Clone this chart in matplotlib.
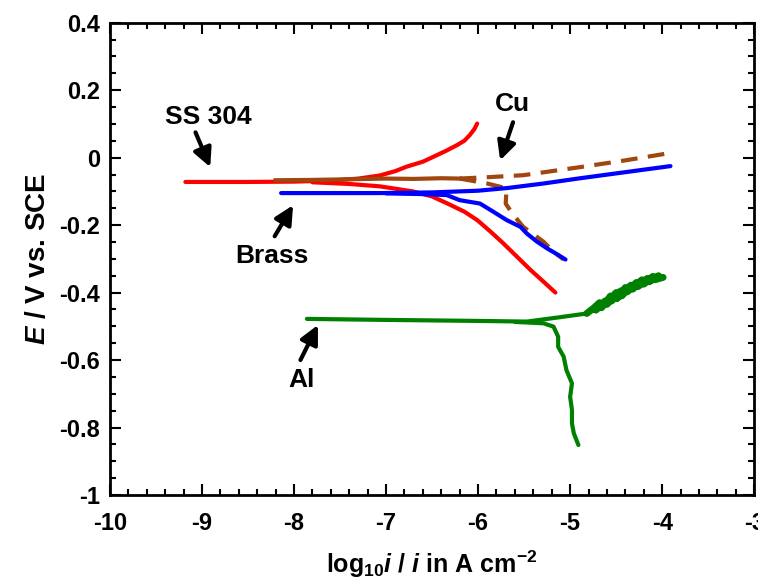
import matplotlib
matplotlib.use('Agg')
import matplotlib.pyplot as plt
from matplotlib.ticker import MultipleLocator, FuncFormatter

plt.rcParams['font.family'] = ['Liberation Sans', 'DejaVu Sans']
plt.rcParams['font.weight'] = 'bold'
plt.rcParams['axes.unicode_minus'] = False
plt.rcParams['mathtext.fontset'] = 'custom'
plt.rcParams['mathtext.rm'] = 'Liberation Sans:bold'
plt.rcParams['mathtext.it'] = 'Liberation Sans:italic:bold'
plt.rcParams['mathtext.bf'] = 'Liberation Sans:bold'

# SS 304 (red)
ss_anod_x = [-9.18, -8.5, -8.0, -7.6, -7.3, -7.07, -6.9, -6.78, -6.6, -6.49, -6.35, -6.23, -6.15, -6.09, -6.04, -6.01]
ss_anod_y = [-0.072, -0.072, -0.071, -0.068, -0.062, -0.053, -0.04, -0.027, -0.012, 0.002, 0.02, 0.037, 0.05, 0.067, 0.085, 0.101]
ss_cath_x = [-7.8, -7.4, -7.07, -6.9, -6.71, -6.5, -6.34, -6.15, -6.01, -5.87, -5.73, -5.58, -5.43, -5.3, -5.16]
ss_cath_y = [-0.073, -0.078, -0.085, -0.092, -0.10, -0.115, -0.135, -0.16, -0.185, -0.218, -0.253, -0.293, -0.333, -0.365, -0.40]

# Brass (blue)
br_anod_x = [-8.14, -7.5, -7.07, -6.5, -6.0, -5.68, -5.3, -4.89, -4.4, -3.91]
br_anod_y = [-0.105, -0.105, -0.105, -0.103, -0.098, -0.09, -0.077, -0.061, -0.043, -0.025]
br_cath_x = [-7.0, -6.6, -6.34, -6.2, -5.98, -5.83, -5.69, -5.54, -5.47, -5.36, -5.25, -5.15, -5.05]
br_cath_y = [-0.106, -0.108, -0.111, -0.126, -0.136, -0.161, -0.185, -0.205, -0.225, -0.249, -0.269, -0.285, -0.302]

# Cu (brown, dashed)
cu_base_x = [-8.2, -7.8, -7.4, -7.0, -6.7, -6.4, -6.2]
cu_base_y = [-0.067, -0.066, -0.064, -0.062, -0.063, -0.061, -0.062]
cu_anod_x = [-6.2, -5.9, -5.51, -5.2, -4.89, -4.4, -3.91]
cu_anod_y = [-0.062, -0.058, -0.052, -0.04, -0.028, -0.008, 0.014]
cu_cath_x = [-6.2, -5.91, -5.69, -5.70, -5.63, -5.51, -5.29, -5.18, -5.07]
cu_cath_y = [-0.062, -0.076, -0.091, -0.136, -0.165, -0.205, -0.249, -0.279, -0.302]

# Al (green)
al_anod_x = [-7.86, -7.0, -6.0, -5.47, -5.11, -4.82]
al_anod_y = [-0.478, -0.481, -0.484, -0.486, -0.473, -0.462]
al_noise_x = [-4.82, -4.74, -4.68, -4.72, -4.62, -4.66, -4.56, -4.6, -4.5, -4.55, -4.45, -4.49, -4.4, -4.44,
              -4.34, -4.38, -4.28, -4.32, -4.22, -4.26, -4.16, -4.2, -4.1, -4.14, -4.04, -4.08, -3.99]
al_noise_y = [-0.462, -0.445, -0.43, -0.452, -0.425, -0.445, -0.41, -0.435, -0.4, -0.425, -0.395, -0.418, -0.385, -0.41,
              -0.378, -0.398, -0.37, -0.39, -0.362, -0.382, -0.358, -0.375, -0.352, -0.368, -0.35, -0.362, -0.355]
al_cath_x = [-5.6, -5.29, -5.18, -5.13, -5.13, -5.07, -5.04, -4.98, -5.0, -4.98, -4.98, -4.96, -4.91]
al_cath_y = [-0.487, -0.491, -0.501, -0.531, -0.561, -0.590, -0.630, -0.669, -0.709, -0.748, -0.788, -0.817, -0.852]

fig = plt.figure(figsize=(7.58, 5.83), dpi=100)
ax = fig.add_axes([0.145, 0.151, 0.85, 0.81])

lw = 3
ax.plot(ss_anod_x, ss_anod_y, color='#ff0000', lw=lw, solid_capstyle='round')
ax.plot(ss_cath_x, ss_cath_y, color='#ff0000', lw=lw, solid_capstyle='round')
ax.plot(cu_base_x, cu_base_y, color='#a0460f', lw=lw)
ax.plot(cu_anod_x, cu_anod_y, color='#a0460f', lw=lw, dashes=(4, 2.5))
ax.plot(cu_cath_x, cu_cath_y, color='#a0460f', lw=lw, dashes=(4, 2.5))
ax.plot(br_anod_x, br_anod_y, color='#0000ff', lw=lw, solid_capstyle='round')
ax.plot(br_cath_x, br_cath_y, color='#0000ff', lw=lw, solid_capstyle='round')
ax.plot(al_anod_x, al_anod_y, color='#008000', lw=lw, solid_capstyle='round')
ax.plot(al_noise_x, al_noise_y, color='#008000', lw=5, solid_joinstyle='round', solid_capstyle='round')
ax.plot(al_cath_x, al_cath_y, color='#008000', lw=lw, solid_capstyle='round')

arrow = dict(arrowstyle='-|>', lw=3, color='k', mutation_scale=28, shrinkA=0, shrinkB=0)
fs_note = 19
ax.annotate('', xy=(-8.91, -0.028), xytext=(-9.07, 0.075), arrowprops=arrow)
ax.text(-8.93, 0.12, 'SS 304', ha='center', va='center', fontsize=fs_note, fontweight='bold')
ax.annotate('', xy=(-5.76, -0.008), xytext=(-5.62, 0.105), arrowprops=arrow)
ax.text(-5.63, 0.16, 'Cu', ha='center', va='center', fontsize=fs_note, fontweight='bold')
ax.annotate('', xy=(-8.01, -0.141), xytext=(-8.21, -0.233), arrowprops=arrow)
ax.text(-8.24, -0.292, 'Brass', ha='center', va='center', fontsize=fs_note, fontweight='bold')
ax.annotate('', xy=(-7.74, -0.496), xytext=(-7.93, -0.60), arrowprops=arrow)
ax.text(-7.92, -0.66, 'Al', ha='center', va='center', fontsize=fs_note, fontweight='bold')

ax.set_xlim(-10, -3)
ax.set_ylim(-1, 0.4)
ax.xaxis.set_major_locator(MultipleLocator(1))
ax.xaxis.set_minor_locator(MultipleLocator(0.2))
ax.yaxis.set_major_locator(MultipleLocator(0.2))
ax.yaxis.set_minor_locator(MultipleLocator(0.05))
ax.xaxis.set_major_formatter(FuncFormatter(lambda v, p: '%g' % round(v, 2)))
ax.yaxis.set_major_formatter(FuncFormatter(lambda v, p: '%g' % round(v, 2)))
ax.tick_params(which='both', direction='in', top=True, right=True, width=1.5, labelsize=17)
ax.tick_params(which='major', length=8)
ax.tick_params(which='minor', length=4)
ax.tick_params(axis='x', which='major', pad=12)
ax.tick_params(axis='y', which='major', pad=7)
for s in ax.spines.values():
    s.set_linewidth(2)

ax.set_xlabel(r'log$_{10}$$i$ / $i$ in A cm$^{-2}$', fontsize=18, fontweight='bold', labelpad=10)
ax.set_ylabel(r'$E$ / V vs. SCE', fontsize=20, fontweight='bold', labelpad=6)

fig.savefig('out.png', dpi=100)
